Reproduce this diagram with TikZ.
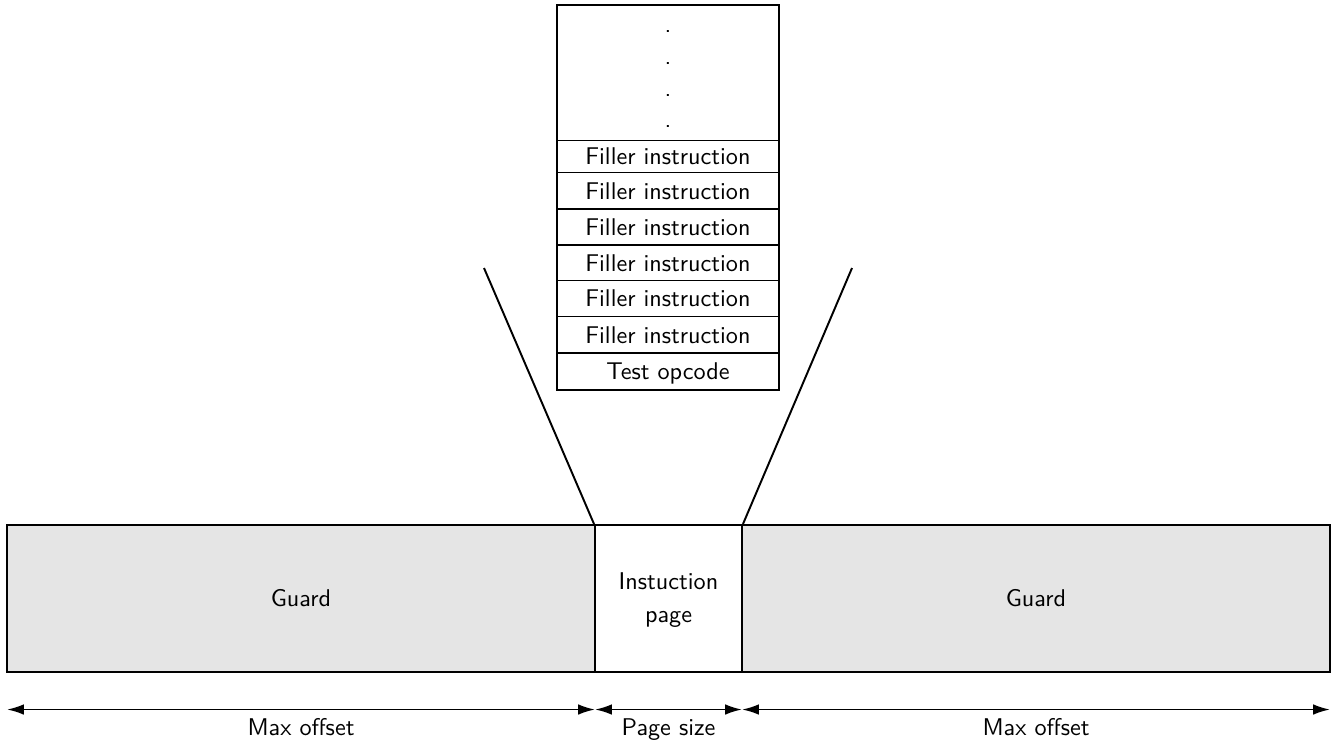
\documentclass[tikz,border=0pt]{standalone}
\usetikzlibrary{arrows.meta}
\newcommand{\pxu}{0.4133pt}
\begin{document}
\begin{tikzpicture}[x=\pxu, y=-\pxu, thick,
  font=\sffamily,
  cell/.style={draw, fill=white, minimum width=222*\pxu, inner sep=0pt, text depth=0pt},
  block/.style={draw, minimum height=147*\pxu, inner sep=0pt, align=center},
  guard/.style={block, fill=gray!20},
  dimline/.style={{Latex[length=7pt,width=4.4pt]}-{Latex[length=7pt,width=4.4pt]}},
  dimlabel/.style={anchor=base, inner sep=0pt}]
\useasboundingbox (0,0) rectangle (1335,744);

% instruction stack
\node[cell, minimum height=135.5*\pxu] (top) at (668,72.75) {};
\foreach \i/\yy in {1/32.5, 2/64, 3/96, 4/127.5}
  \node[anchor=base, inner sep=0pt] (dot\i) at (668,\yy) {.};
\node[cell, minimum height=32*\pxu]   (f1) at (668,156.5) {Filler instruction};
\node[cell, minimum height=36.5*\pxu] (f2) at (668,190.75) {Filler instruction};
\node[cell, minimum height=36*\pxu]   (f3) at (668,227) {Filler instruction};
\node[cell, minimum height=35.5*\pxu] (f4) at (668,262.75) {Filler instruction};
\node[cell, minimum height=36*\pxu]   (f5) at (668,298.5) {Filler instruction};
\node[cell, minimum height=36.5*\pxu] (f6) at (668,334.75) {Filler instruction};
\node[cell, minimum height=37*\pxu]   (op) at (668,371.5) {Test opcode};

% memory layout
\node[guard, minimum width=588*\pxu] (gl) at (301,598.5) {Guard};
\node[block, minimum width=147*\pxu] (page) at (668.5,598.5) {};
\node[align=center, inner sep=0pt] (pagetext) at (668.5,600.5) {Instuction\\[1.6pt]page};
\node[guard, minimum width=588*\pxu] (gr) at (1036,598.5) {Guard};

% zoom lines
\coordinate (zl) at (484,268);
\coordinate (zr) at (852,268);
\draw (page.north west) -- (zl);
\draw (page.north east) -- (zr);

% dimensions
\coordinate (d0) at (7,709.5);
\coordinate (d1) at (595,709.5);
\coordinate (d2) at (742,709.5);
\coordinate (d3) at (1330,709.5);
\draw[dimline] (d0) -- (d1);
\draw[dimline] (d1) -- (d2);
\draw[dimline] (d2) -- (d3);
\node[dimlabel] (l1) at (301,735.5) {Max offset};
\node[dimlabel] (l2) at (668.5,735.5) {Page size};
\node[dimlabel] (l3) at (1036,735.5) {Max offset};
\end{tikzpicture}
\end{document}
